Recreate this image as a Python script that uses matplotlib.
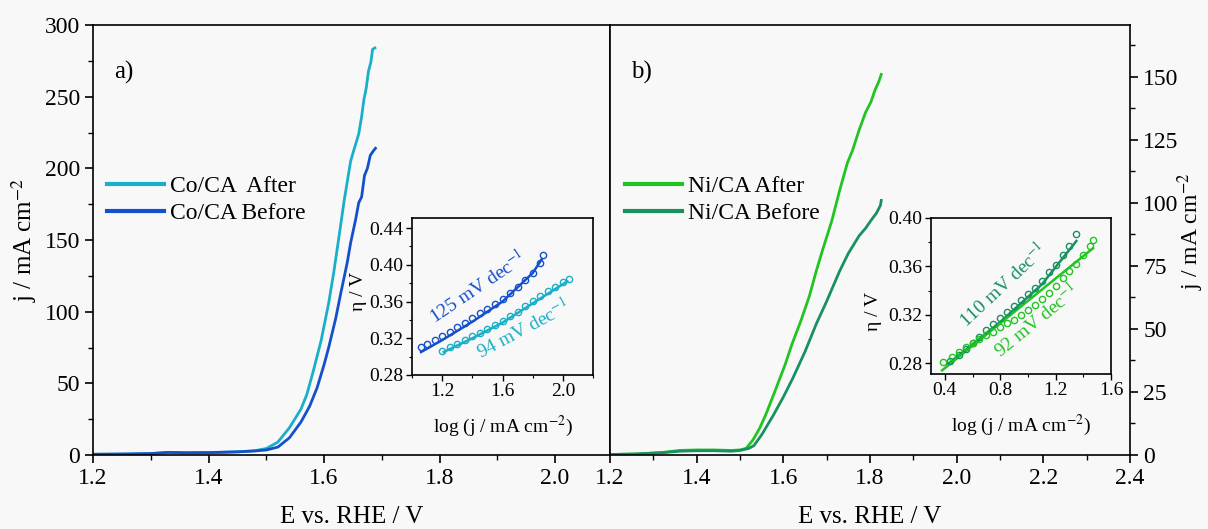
import matplotlib
matplotlib.use("Agg")
import matplotlib.pyplot as plt
from matplotlib.ticker import MultipleLocator

plt.rcParams.update({
    'font.family': ['Liberation Serif', 'DejaVu Serif'],
    'mathtext.fontset': 'stix',
    'font.size': 17,
    'axes.linewidth': 1.2,
    'xtick.direction': 'out',
    'ytick.direction': 'out',
})

# colours
C_CO_AFTER = '#1aafc8'
C_CO_BEFORE = '#1450cc'
C_NI_AFTER = '#22c322'
C_NI_BEFORE = '#179160'
BG = '#f8f8f8'

# ---- main LSV curves (a) Co/CA ----
co_after_E = [1.20, 1.26, 1.30, 1.33, 1.36, 1.40, 1.45, 1.48, 1.50, 1.52, 1.54, 1.56, 1.57,
              1.581, 1.595, 1.608, 1.617, 1.625, 1.635, 1.646, 1.651, 1.660, 1.665, 1.669,
              1.673, 1.677, 1.681, 1.684, 1.688]
co_after_j = [0.5, 0.7, 1.0, 1.8, 1.5, 1.6, 2.2, 3.0, 4.5, 9, 19, 32, 42,
              58, 80, 106, 128, 150, 178, 205, 212, 224, 236, 248,
              256, 268, 274, 283, 284]
co_before_E = [1.20, 1.26, 1.30, 1.33, 1.36, 1.40, 1.45, 1.48, 1.50, 1.52, 1.54, 1.56, 1.575,
               1.588, 1.60, 1.608, 1.62, 1.629, 1.64, 1.646, 1.655, 1.660, 1.665, 1.670,
               1.675, 1.680, 1.685, 1.689]
co_before_j = [0.5, 0.7, 1.0, 1.8, 1.6, 1.7, 2.2, 2.8, 3.5, 5.5, 12, 23, 34,
               47, 63, 75, 95, 113, 134, 148, 165, 176, 180, 195,
               200, 209, 212, 214]

# ---- main LSV curves (b) Ni/CA ----
ni_after_E = [1.20, 1.26, 1.32, 1.36, 1.40, 1.44, 1.48, 1.50, 1.514, 1.53, 1.545, 1.559, 1.58,
              1.604, 1.62, 1.640, 1.66, 1.676, 1.69, 1.712, 1.73, 1.748, 1.76, 1.775, 1.79,
              1.802, 1.812, 1.82, 1.826]
ni_after_j = [0.2, 0.4, 1.0, 1.8, 2.0, 2.0, 1.8, 2.0, 2.6, 6, 10.5, 15.8, 25,
              35.8, 44, 53, 63, 73, 81, 93, 105, 116, 121, 129, 136,
              140, 145, 148, 151]
ni_before_E = [1.20, 1.26, 1.32, 1.36, 1.40, 1.44, 1.48, 1.50, 1.52, 1.532, 1.55, 1.577, 1.60,
               1.622, 1.65, 1.676, 1.70, 1.730, 1.75, 1.775, 1.79, 1.802, 1.815, 1.824, 1.826]
ni_before_j = [0.2, 0.4, 0.9, 1.5, 1.7, 1.7, 1.5, 1.8, 2.6, 3.7, 8, 15.8, 23,
               30.5, 41, 52, 61, 73, 80, 87, 90, 93, 96, 99, 101]

# ---- Tafel insets ----
tafel_co_before_x = [1.06, 1.10, 1.15, 1.20, 1.25, 1.30, 1.35, 1.40, 1.45, 1.50, 1.55, 1.60,
                     1.65, 1.70, 1.75, 1.80, 1.85, 1.87]
tafel_co_before_y = [0.310, 0.314, 0.318, 0.323, 0.327, 0.332, 0.337, 0.342, 0.347, 0.352,
                     0.357, 0.363, 0.369, 0.376, 0.383, 0.391, 0.402, 0.411]
tafel_co_after_x = [1.20, 1.25, 1.30, 1.35, 1.40, 1.45, 1.50, 1.55, 1.60, 1.65, 1.70, 1.75,
                    1.80, 1.85, 1.90, 1.95, 2.00, 2.04]
tafel_co_after_y = [0.306, 0.310, 0.314, 0.318, 0.322, 0.326, 0.330, 0.334, 0.339, 0.344,
                    0.349, 0.355, 0.361, 0.366, 0.371, 0.376, 0.381, 0.385]
fit_co_before_x = [1.06, 1.20, 1.40, 1.60, 1.80, 1.86]
fit_co_before_y = [0.305, 0.318, 0.338, 0.360, 0.391, 0.406]
fit_co_after_x = [1.21, 1.40, 1.60, 1.80, 2.03]
fit_co_after_y = [0.305, 0.320, 0.337, 0.358, 0.382]

tafel_ni_before_x = [0.44, 0.50, 0.55, 0.60, 0.65, 0.70, 0.75, 0.80, 0.85, 0.90, 0.95, 1.00,
                     1.05, 1.10, 1.15, 1.20, 1.25, 1.30, 1.35]
tafel_ni_before_y = [0.282, 0.287, 0.292, 0.297, 0.302, 0.307, 0.312, 0.317, 0.322, 0.327,
                     0.332, 0.337, 0.342, 0.348, 0.355, 0.361, 0.369, 0.377, 0.3865]
tafel_ni_after_x = [0.39, 0.45, 0.50, 0.55, 0.60, 0.65, 0.70, 0.75, 0.80, 0.85, 0.90, 0.95,
                    1.00, 1.05, 1.10, 1.15, 1.20, 1.25, 1.30, 1.35, 1.40, 1.45, 1.47]
tafel_ni_after_y = [0.281, 0.285, 0.289, 0.293, 0.297, 0.300, 0.303, 0.306, 0.310, 0.313,
                    0.316, 0.320, 0.324, 0.328, 0.333, 0.338, 0.344, 0.350, 0.356, 0.362,
                    0.369, 0.377, 0.382]
fit_ni_before_x = [0.42, 0.80, 1.10, 1.35]
fit_ni_before_y = [0.279, 0.314, 0.345, 0.381]
fit_ni_after_x = [0.38, 1.47]
fit_ni_after_y = [0.274, 0.375]

W, H = 1208, 529
fig = plt.figure(figsize=(W / 100, H / 100), dpi=100, facecolor=BG)


def px_box(x0, y_top, x1, y_bot):
    return [x0 / W, 1 - y_bot / H, (x1 - x0) / W, (y_bot - y_top) / H]


def style_main(ax):
    ax.xaxis.set_major_locator(MultipleLocator(0.2))
    ax.xaxis.set_minor_locator(MultipleLocator(0.1))
    ax.xaxis.set_major_formatter(plt.FormatStrFormatter('%.1f'))
    ax.tick_params(which='major', length=6, width=1.2, labelsize=17)
    ax.tick_params(which='minor', length=3.5, width=1.0)
    ax.set_xlabel('E vs. RHE / V', fontsize=18, labelpad=12)


def style_inset(ax):
    ax.xaxis.set_major_locator(MultipleLocator(0.4))
    ax.xaxis.set_minor_locator(MultipleLocator(0.2))
    ax.yaxis.set_major_locator(MultipleLocator(0.04))
    ax.yaxis.set_minor_locator(MultipleLocator(0.02))
    ax.xaxis.set_major_formatter(plt.FormatStrFormatter('%.1f'))
    ax.yaxis.set_major_formatter(plt.FormatStrFormatter('%.2f'))
    ax.tick_params(which='major', length=4, width=1, labelsize=14, pad=2)
    ax.tick_params(which='minor', length=2, width=0.8)
    ax.set_xlabel('log (j / mA cm$^{-2}$)', fontsize=14)
    ax.xaxis.set_label_coords(0.5, -0.25)
    ax.set_ylabel('η / V', fontsize=14)


ax1 = fig.add_axes(px_box(93, 25, 610, 455), facecolor=BG)
ax2 = fig.add_axes(px_box(610, 25, 1130, 455), facecolor=BG)

ax1.plot(co_after_E, co_after_j, color=C_CO_AFTER, lw=2, label='Co/CA  After')
ax1.plot(co_before_E, co_before_j, color=C_CO_BEFORE, lw=2, label='Co/CA Before')
ax1.set_xlim(1.2, 2.095)
ax1.set_ylim(0, 300)
ax1.yaxis.set_major_locator(MultipleLocator(50))
ax1.yaxis.set_minor_locator(MultipleLocator(25))
style_main(ax1)
ax1.set_ylabel('j / mA cm$^{-2}$', fontsize=18, labelpad=4)
ax1.text(0.04, 0.89, 'a)', transform=ax1.transAxes, va='center', ha='left', fontsize=18)
leg1 = ax1.legend(loc='upper left', bbox_to_anchor=(0.027, 0.65), frameon=False,
                  handlelength=2.4, handletextpad=0.25, labelspacing=0.25,
                  borderpad=0, borderaxespad=0)
for h in leg1.get_lines():
    h.set_linewidth(3)

ax2.plot(ni_after_E, ni_after_j, color=C_NI_AFTER, lw=2, label='Ni/CA After')
ax2.plot(ni_before_E, ni_before_j, color=C_NI_BEFORE, lw=2, label='Ni/CA Before')
ax2.set_xlim(1.2, 2.4)
ax2.set_ylim(0, 170.6)
ax2.yaxis.tick_right()
ax2.yaxis.set_label_position('right')
ax2.yaxis.set_major_locator(MultipleLocator(25))
ax2.yaxis.set_minor_locator(MultipleLocator(12.5))
style_main(ax2)
ax2.set_ylabel('j / mA cm$^{-2}$', fontsize=17, rotation=90)
ax2.yaxis.set_label_coords(1.088, 0.52)
ax2.text(0.04, 0.89, 'b)', transform=ax2.transAxes, va='center', ha='left', fontsize=18)
leg2 = ax2.legend(loc='upper left', bbox_to_anchor=(0.029, 0.65), frameon=False,
                  handlelength=2.4, handletextpad=0.25, labelspacing=0.25,
                  borderpad=0, borderaxespad=0)
for h in leg2.get_lines():
    h.set_linewidth(3)

# ---- insets ----
ins1 = fig.add_axes(px_box(412, 218, 593, 375), facecolor=BG)
ins1.plot(fit_co_before_x, fit_co_before_y, color=C_CO_BEFORE, lw=1.8)
ins1.plot(fit_co_after_x, fit_co_after_y, color=C_CO_AFTER, lw=1.8)
ins1.plot(tafel_co_before_x, tafel_co_before_y, 'o', mfc='none', mec=C_CO_BEFORE, ms=4.5, mew=1)
ins1.plot(tafel_co_after_x, tafel_co_after_y, 'o', mfc='none', mec=C_CO_AFTER, ms=4.5, mew=1)
ins1.set_xlim(1.0, 2.2)
ins1.set_ylim(0.28, 0.451)
style_inset(ins1)
ins1.yaxis.set_label_coords(-0.25, 0.53)
ins1.text(1.433, 0.376, '125 mV dec$^{-1}$', color=C_CO_BEFORE, fontsize=14,
          rotation=34, ha='center', va='center')
ins1.text(1.733, 0.331, '94 mV dec$^{-1}$', color=C_CO_AFTER, fontsize=14,
          rotation=28, ha='center', va='center')

ins2 = fig.add_axes(px_box(931, 218, 1111, 374), facecolor=BG)
ins2.plot(fit_ni_before_x, fit_ni_before_y, color=C_NI_BEFORE, lw=1.8)
ins2.plot(fit_ni_after_x, fit_ni_after_y, color=C_NI_AFTER, lw=1.8)
ins2.plot(tafel_ni_before_x, tafel_ni_before_y, 'o', mfc='none', mec=C_NI_BEFORE, ms=4.5, mew=1)
ins2.plot(tafel_ni_after_x, tafel_ni_after_y, 'o', mfc='none', mec=C_NI_AFTER, ms=4.5, mew=1)
ins2.set_xlim(0.3, 1.6)
ins2.set_ylim(0.271, 0.40)
style_inset(ins2)
ins2.yaxis.set_label_coords(-0.27, 0.40)
ins2.text(0.814, 0.3445, '110 mV dec$^{-1}$', color=C_NI_BEFORE, fontsize=14,
          rotation=43, ha='center', va='center')
ins2.text(1.058, 0.3155, '92 mV dec$^{-1}$', color=C_NI_AFTER, fontsize=14,
          rotation=39, ha='center', va='center')

fig.savefig('out.png', dpi=100, facecolor=BG)
